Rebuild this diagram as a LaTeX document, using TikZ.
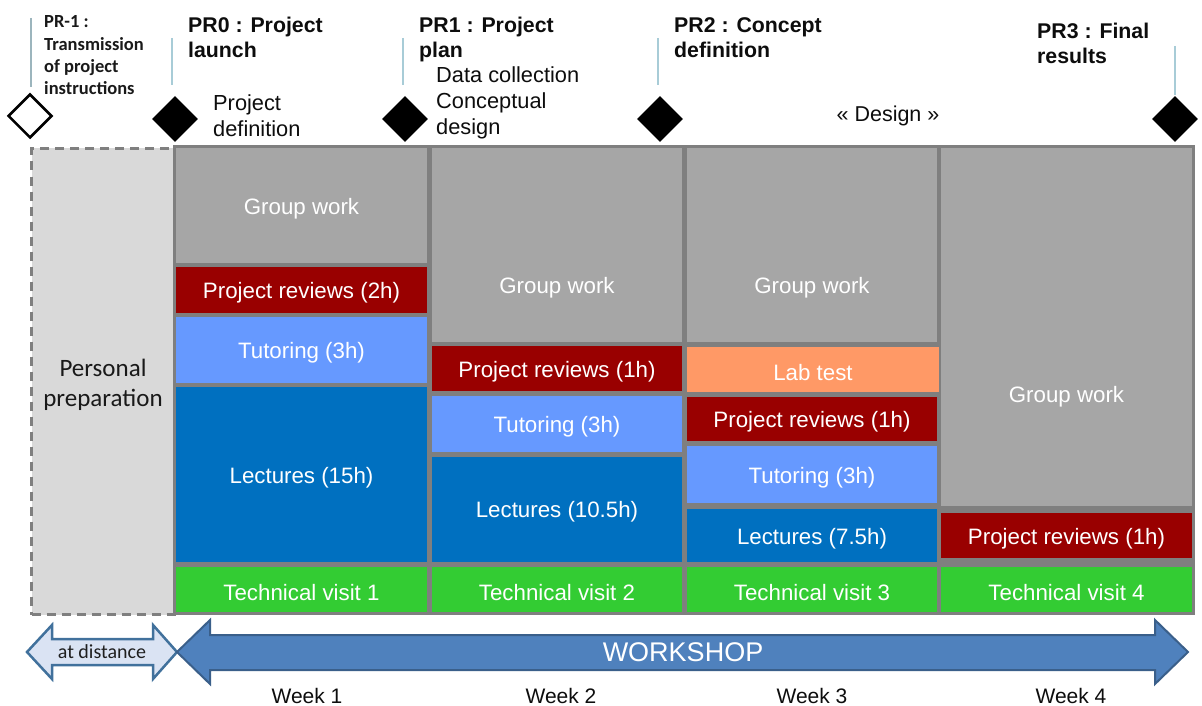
\documentclass[tikz,border=0pt]{standalone}
\usepackage{fontspec}
\setmainfont{Liberation Sans}
\newfontfamily\calibri{Carlito}
\usetikzlibrary{shapes.geometric}
\definecolor{framegray}{HTML}{7F7F7F}
\definecolor{gwgray}{HTML}{A6A6A6}
\definecolor{revred}{HTML}{990000}
\definecolor{tutblue}{HTML}{6699FF}
\definecolor{lecblue}{HTML}{0070C0}
\definecolor{labor}{HTML}{FF9966}
\definecolor{tvgreen}{HTML}{33CC33}
\definecolor{prepgray}{HTML}{D9D9D9}
\definecolor{leader}{HTML}{A8CCD7}
\definecolor{wsfill}{HTML}{4F81BD}
\definecolor{wsdraw}{HTML}{3A5F8A}
\definecolor{adfill}{HTML}{DAE3F3}
\definecolor{addraw}{HTML}{41719C}
% name, x1, y1, x2, y2, colour, text, text centre y
\newcommand\mycell[8]{%
  \node[cellbox,fill=#6,anchor=north west,minimum width={(#4-#2)*1pt},minimum height={(#5-#3)*1pt}] (#1) at (#2,#3) {};
  \node[celltext] (#1-t) at ({(#2+#4)/2},#8) {#7};}
\begin{document}
\begin{tikzpicture}[x=1pt,y=-1pt,
  cellbox/.style={rectangle,draw=none,inner sep=0pt},
  celltext/.style={inner sep=0pt,yshift=-2.5pt,text=white,font=\fontsize{22.3}{26}\selectfont},
  milestone/.style={diamond,fill=black,inner sep=0pt,minimum width=46pt,minimum height=46pt},
  openmile/.style={diamond,draw=black,line width=2.5pt,fill=white,inner sep=0pt,minimum width=44pt,minimum height=44pt},
  leaderline/.style={draw=leader,line width=1.5pt},
  boldlab/.style={anchor=north west,inner sep=0pt,align=left,font=\bfseries\fontsize{21.3}{25}\selectfont,text=black!95},
  plainlab/.style={anchor=north west,inner sep=0pt,align=left,font=\fontsize{21.8}{26}\selectfont,text=black!95},
  weeklab/.style={anchor=base,inner sep=0pt,font=\fontsize{21}{25}\selectfont,text=black!95}]
\useasboundingbox (0,0) rectangle (1202,706);
% personal preparation
\node[rectangle,fill=prepgray,draw=framegray,line width=3pt,dash pattern=on 9pt off 6pt,anchor=north west,minimum width=143pt,minimum height=466pt,inner sep=0pt] (prep) at (30,147) {};
\node[font=\calibri\fontsize{25}{30}\selectfont,align=center,text=black!90] (preptxt) at (103,385) {Personal\\preparation};
% main frame
\node[rectangle,fill=framegray,anchor=north west,minimum width=1022pt,minimum height=470pt,inner sep=0pt] (frame) at (173,145) {};
% week 1
\mycell{gwa}{176}{148}{427}{263}{gwgray}{Group work}{206}
\mycell{pra}{176}{267}{427}{313}{revred}{Project reviews (2h)}{290}
\mycell{tua}{176}{317}{427}{383}{tutblue}{Tutoring (3h)}{350}
\mycell{lea}{176}{387}{427}{562}{lecblue}{Lectures (15h)}{475}
\mycell{tva}{176}{567}{427}{612}{tvgreen}{Technical visit 1}{590}
% week 2
\mycell{gwb}{432}{148}{682}{342}{gwgray}{Group work}{285}
\mycell{prb}{432}{346}{682}{391}{revred}{Project reviews (1h)}{369}
\mycell{tub}{432}{396}{682}{452}{tutblue}{Tutoring (3h)}{424}
\mycell{leb}{432}{457}{682}{562}{lecblue}{Lectures (10.5h)}{509}
\mycell{tvb}{432}{567}{682}{612}{tvgreen}{Technical visit 2}{590}
% week 3
\mycell{gwc}{687}{148}{937}{342}{gwgray}{Group work}{285}
\mycell{lab}{687}{347}{939}{392}{labor}{Lab test}{370}
\mycell{prc}{687}{397}{937}{441}{revred}{Project reviews (1h)}{419}
\mycell{tuc}{687}{446}{937}{503}{tutblue}{Tutoring (3h)}{475}
\mycell{lec}{687}{509}{937}{562}{lecblue}{Lectures (7.5h)}{536}
\mycell{tvc}{687}{567}{937}{612}{tvgreen}{Technical visit 3}{590}
% week 4
\mycell{gwd}{941}{148}{1192}{506}{gwgray}{Group work}{394}
\mycell{prd}{941}{513}{1192}{558}{revred}{Project reviews (1h)}{536}
\mycell{tvd}{941}{567}{1192}{612}{tvgreen}{Technical visit 4}{590}
% milestones
\node[openmile] (mm1) at (30,116) {};
\node[milestone] (m0) at (175,119) {};
\node[milestone] (m1) at (405,119) {};
\node[milestone] (m2) at (660,119) {};
\node[milestone] (m3) at (1175,119) {};
% leader lines
\coordinate (lm1a) at (31,18); \coordinate (lm1b) at (31,87);
\coordinate (l0a) at (172,38); \coordinate (l0b) at (172,85);
\coordinate (l1a) at (403,38); \coordinate (l1b) at (403,85);
\coordinate (l2a) at (658,38); \coordinate (l2b) at (658,85);
\coordinate (l3a) at (1175,46); \coordinate (l3b) at (1175,95);
\draw[leaderline,draw=leader!70!gray] (lm1a) -- (lm1b);
\draw[leaderline] (l0a) -- (l0b);
\draw[leaderline] (l1a) -- (l1b);
\draw[leaderline] (l2a) -- (l2b);
\draw[leaderline] (l3a) -- (l3b);
% labels
\node[anchor=north west,inner sep=0pt,align=left,font=\calibri\bfseries\fontsize{18.5}{22.3}\selectfont,text=black!90] (tm1) at (44,15.5) {PR-1 :\\Transmission\\of project\\instructions};
\node[boldlab] (t0) at (188,17) {PR0 : Project\\launch};
\node[boldlab] (t1) at (419,17) {PR1 : Project\\plan};
\node[boldlab] (t2) at (674,17) {PR2 : Concept\\definition};
\node[boldlab] (t3) at (1037,23) {PR3 : Final\\results};
\node[plainlab] (d0) at (213,95) {Project\\definition};
\node[plainlab] (d1) at (436,67) {Data collection\\Conceptual\\design};
\node[anchor=base,inner sep=0pt,font=\fontsize{21.5}{25}\selectfont,text=black!95] (d2) at (888,122) {« Design »};
% bottom arrows
\draw[fill=adfill,draw=addraw,line width=2.5pt,line join=miter] (27,652) -- (52,625) -- (52,639) -- (153,639) -- (153,625) -- (177,652) -- (153,679) -- (153,665) -- (52,665) -- (52,679) -- cycle;
\node[font=\calibri\fontsize{20}{22}\selectfont,text=black!88] (atd) at (102,652) {at distance};
\draw[fill=wsfill,draw=wsdraw,line width=2pt,line join=miter] (177,652) -- (210,620) -- (210,635) -- (1155,635) -- (1155,620) -- (1188,652) -- (1155,684) -- (1155,670) -- (210,670) -- (210,684) -- cycle;
\node[font=\fontsize{27}{30}\selectfont,text=white] (ws) at (683,652) {WORKSHOP};
\node[weeklab] (w1) at (307,703) {Week 1};
\node[weeklab] (w2) at (561,703) {Week 2};
\node[weeklab] (w3) at (812,703) {Week 3};
\node[weeklab] (w4) at (1071,703) {Week 4};
\end{tikzpicture}
\end{document}
